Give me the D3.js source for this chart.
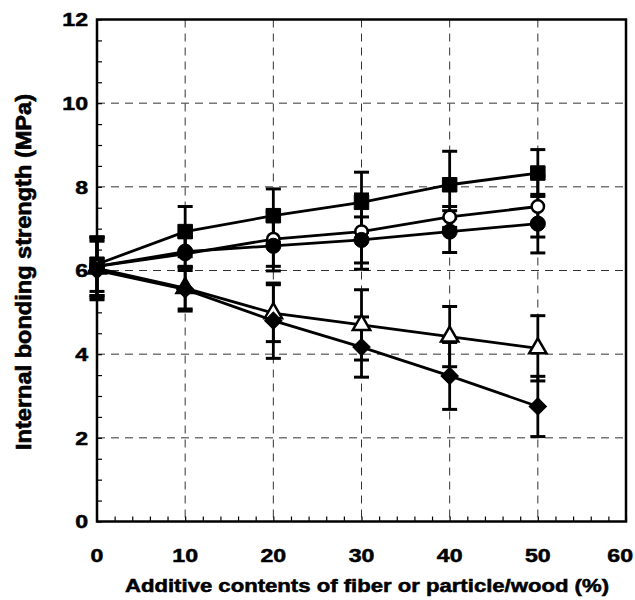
<!DOCTYPE html>
<html>
<head>
<meta charset="utf-8">
<script src="https://cdn.jsdelivr.net/npm/d3@7"></script>
<style>
    body { margin: 0; background: #fff; }
    text { font-family: "Liberation Sans", Arial, sans-serif; font-weight: bold; fill: #000; stroke: #000; stroke-width: 0.5px; }
</style>
</head>
<body>
<div class="drawingArea"></div>
<script>
// additive content (%)
var xVals = [0, 10, 20, 30, 40, 50];

// filled squares
var sqMean = [6.15, 6.93, 7.31, 7.63, 8.05, 8.33];
var sqErr = [0.65, 0.6, 0.64, 0.72, 0.8, 0.56];
// open circles
var ocMean = [6.1, 6.4, 6.75, 6.93, 7.28, 7.53];
var ocErr = [0.7, 0.4, 0.65, 0.9, 0.25, 0.73];
// filled circles
var fcMean = [6.1, 6.45, 6.59, 6.73, 6.93, 7.12];
var fcErr = [0.7, 0.35, 0.6, 0.55, 0.5, 0.7];
// open triangles
var trMean = [6.05, 5.58, 4.98, 4.7, 4.42, 4.14];
var trErr = [0.7, 0.5, 0.68, 0.84, 0.72, 0.78];
// filled diamonds
var dmMean = [6.0, 5.55, 4.8, 4.17, 3.48, 2.75];
var dmErr = [0.7, 0.52, 0.9, 0.72, 0.8, 0.72];

var xTicks = [0, 10, 20, 30, 40, 50, 60];
var yTicks = [0, 2, 4, 6, 8, 10, 12];

var xTitle = "Additive contents of fiber or particle/wood (%)";
var yTitle = "Internal bonding strength (MPa)";

var width = 635;
var height = 600;
var margin = {left: 97, right: 9, top: 19.5, bottom: 78.5};
var stretch = 1.25; // text in the picture is wide

var x = d3.scaleLinear().domain([0, 60]).range([margin.left, width - margin.right]);
var y = d3.scaleLinear().domain([0, 12]).range([height - margin.bottom, margin.top]);

var svg = d3.select(".drawingArea").append("svg:svg")
    .attr("width", width)
    .attr("height", height);

//grid
var grid = svg.append("g").attr("id", "grid");
grid.selectAll("line.gx")
    .data(xTicks.slice(1, -1))
    .enter().append("line")
    .attr("class", "gx")
    .attr("x1", function(d) { return x(d); })
    .attr("x2", function(d) { return x(d); })
    .attr("y1", y(12))
    .attr("y2", y(0))
    .attr("stroke", "#333")
    .attr("stroke-width", 1)
    .attr("stroke-dasharray", "8,6");
grid.selectAll("line.gy")
    .data(yTicks.slice(1, -1))
    .enter().append("line")
    .attr("class", "gy")
    .attr("x1", x(0))
    .attr("x2", x(60))
    .attr("y1", function(d) { return y(d); })
    .attr("y2", function(d) { return y(d); })
    .attr("stroke", "#333")
    .attr("stroke-width", 1)
    .attr("stroke-dasharray", "8,6");

//axes, minor ticks inward
svg.append("g")
    .attr("transform", "translate(0," + y(0) + ")")
    .call(d3.axisTop(x).ticks(30).tickSize(5).tickFormat(""));
svg.append("g")
    .attr("transform", "translate(" + x(0) + ",0)")
    .call(d3.axisRight(y).ticks(30).tickSize(5).tickFormat(""));
svg.selectAll(".domain").remove();
svg.selectAll(".tick line").attr("stroke", "#000").attr("stroke-width", 1.2);

// frame
svg.append("rect")
    .attr("x", x(0))
    .attr("y", y(12))
    .attr("width", x(60) - x(0))
    .attr("height", y(0) - y(12))
    .attr("fill", "none")
    .attr("stroke", "#000")
    .attr("stroke-width", 2.5);

// tick labels
var xl = svg.selectAll("text.xl")
    .data(xTicks)
    .enter().append("text")
    .attr("class", "xl")
    .attr("text-anchor", "middle")
    .style("font-size", "18.5px")
    .text(function(d) { return d; });
// keep last label inside the page
xl.attr("transform", function(d) {
    var half = this.getComputedTextLength() * stretch / 2;
    var cx = Math.min(x(d), width - half - 2);
    return "translate(" + cx + ",562) scale(" + stretch + ",1)";
});
svg.selectAll("text.yl")
    .data(yTicks)
    .enter().append("text")
    .attr("class", "yl")
    .attr("transform", function(d) { return "translate(88," + (y(d) + 6.7) + ") scale(" + stretch + ",1)"; })
    .attr("text-anchor", "end")
    .style("font-size", "18.5px")
    .text(function(d) { return d; });

// titles
svg.append("text")
    .attr("x", 367)
    .attr("y", 592)
    .attr("text-anchor", "middle")
    .attr("textLength", 484)
    .attr("lengthAdjust", "spacingAndGlyphs")
    .style("font-size", "17.5px")
    .text(xTitle);
svg.append("text")
    .attr("transform", "translate(31,272) scale(" + stretch + ",1) rotate(-90)")
    .attr("text-anchor", "middle")
    .attr("textLength", 356)
    .attr("lengthAdjust", "spacingAndGlyphs")
    .style("font-size", "17.5px")
    .text(yTitle);

var series = [
    {mean: sqMean, err: sqErr, shape: d3.symbolSquare, size: 210, fill: "#000", rot: 0},
    {mean: ocMean, err: ocErr, shape: d3.symbolCircle, size: 120, fill: "#fff", rot: 0},
    {mean: fcMean, err: fcErr, shape: d3.symbolCircle, size: 180, fill: "#000", rot: 0},
    {mean: trMean, err: trErr, shape: d3.symbolTriangle, size: 130, fill: "#fff", rot: 0},
    {mean: dmMean, err: dmErr, shape: d3.symbolSquare, size: 150, fill: "#000", rot: 45}
];

var line = d3.line()
    .x(function(d) { return x(d[0]); })
    .y(function(d) { return y(d[1]); });

var plot = svg.append("g").attr("id", "plot");

series.forEach(function(s) {
    var pts = xVals.map(function(v, i) { return [v, s.mean[i], s.err[i]]; });
    plot.append("path")
        .attr("d", line(pts))
        .attr("fill", "none")
        .attr("stroke", "#000")
        .attr("stroke-width", 2.8);

    var eb = plot.append("g");
    eb.selectAll("line.v")
        .data(pts)
        .enter().append("line")
        .attr("x1", function(d) { return x(d[0]); })
        .attr("x2", function(d) { return x(d[0]); })
        .attr("y1", function(d) { return y(d[1] + d[2]); })
        .attr("y2", function(d) { return y(d[1] - d[2]); })
        .attr("stroke", "#000")
        .attr("stroke-width", 2.8);
    [1, -1].forEach(function(sign) {
        eb.selectAll("line.c" + sign)
            .data(pts)
            .enter().append("line")
            .attr("x1", function(d) { return x(d[0]) - 7.5; })
            .attr("x2", function(d) { return x(d[0]) + 7.5; })
            .attr("y1", function(d) { return y(d[1] + sign * d[2]); })
            .attr("y2", function(d) { return y(d[1] + sign * d[2]); })
            .attr("stroke", "#000")
            .attr("stroke-width", 3);
    });
});

series.forEach(function(s) {
    plot.append("g").selectAll("path")
        .data(xVals.map(function(v, i) { return [v, s.mean[i]]; }))
        .enter().append("path")
        .attr("d", d3.symbol().type(s.shape).size(s.size))
        .attr("transform", function(d) { return "translate(" + x(d[0]) + "," + y(d[1]) + ") rotate(" + s.rot + ")"; })
        .attr("fill", s.fill)
        .attr("stroke", "#000")
        .attr("stroke-width", s.fill == "#fff" ? 2.5 : 1);
});
</script>
</body>
</html>
